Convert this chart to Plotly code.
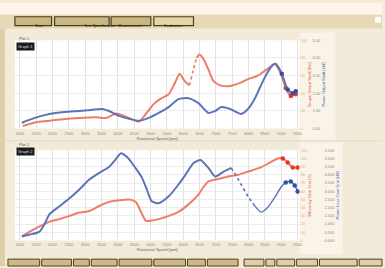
import plotly.graph_objects as go

# ---------------- data ----------------
rpm_ticks = [1000, 1500, 2000, 2500, 3000, 3500, 4000, 4500, 5000, 5500,
             6000, 6500, 7000, 7500, 8000, 8500, 9000, 9500]
rpm_labels = [str(v) for v in rpm_ticks]

# chart 1, red series (red axis 0..100)
c1_red_rpm_a = [1090, 1455, 1910, 2365, 2820, 3275, 3640, 3945, 4280, 4645, 4885,
                5100, 5310, 5555, 5735, 5890, 6040, 6190]
c1_red_val_a = [3, 7, 9, 11, 12, 13, 12, 17, 13, 8, 18, 28, 34, 39, 51, 62, 54, 49]
c1_red_rpm_b = [6190, 6310, 6405]
c1_red_val_b = [49, 67, 80]
c1_red_rpm_c = [6405, 6495, 6615, 6770, 6920, 7130, 7375, 7680, 7980, 8285, 8590,
                8800, 8985, 9135, 9290, 9440]
c1_red_val_c = [80, 84, 79, 67, 54, 49, 48, 51, 56, 60, 68, 73, 62, 46, 37, 39]

# chart 1, blue series (blue axis 0..5)
c1_blue_rpm = [1060, 1455, 1910, 2365, 2820, 3185, 3520, 3795, 4035, 4340, 4645,
               4945, 5250, 5555, 5855, 6160, 6465, 6770, 6980, 7165, 7435, 7770,
               7980, 8195, 8405, 8590, 8740, 8830, 9015, 9195, 9350, 9440]
c1_blue_val = [0.33, 0.61, 0.83, 0.94, 1.0, 1.06, 1.11, 0.94, 0.72, 0.56, 0.44,
               0.61, 0.89, 1.22, 1.67, 1.72, 1.44, 0.89, 1.0, 1.22, 1.11, 0.83,
               1.11, 1.72, 2.56, 3.22, 3.61, 3.67, 3.11, 2.22, 2.0, 2.11]

# chart 2, red series (red axis 0..110)
c2_red_rpm = [1060, 1455, 1910, 2215, 2520, 2820, 3125, 3430, 3730, 4035, 4340,
              4550, 4705, 4855, 5005, 5250, 5555, 5855, 6160, 6465, 6615, 6770,
              7070, 7375, 7680, 7980, 8375, 8650, 8895, 9045, 9195, 9350, 9500]
c2_red_val = [5, 14, 23, 26, 30, 34, 36, 42, 47, 49, 50, 47, 35, 24, 24, 26, 30,
              35, 44, 56, 65, 72, 75, 78, 80, 84, 89, 95, 100, 100, 95, 89, 89]

# chart 2, blue series (blue axis 0..5.5)
c2_blue_rpm_a = [1060, 1305, 1605, 1760, 1910, 2215, 2520, 2820, 3125, 3430, 3730,
                 3915, 4095, 4280, 4430, 4580, 4735, 4885, 5035, 5250, 5555, 5855,
                 6070, 6315, 6525, 6770, 6980, 7225, 7465]
c2_blue_val_a = [0.24, 0.36, 0.54, 1.02, 1.61, 2.09, 2.57, 3.11, 3.71, 4.12, 4.48,
                 4.90, 5.32, 5.08, 4.72, 4.30, 3.83, 3.11, 2.39, 2.27, 2.69, 3.41,
                 4.01, 4.72, 4.90, 4.42, 3.89, 4.18, 4.42]
c2_blue_rpm_b = [7465, 7620, 7770, 7980, 8195]
c2_blue_val_b = [4.42, 3.95, 3.41, 2.69, 2.09]
c2_blue_rpm_c = [8195, 8375, 8590, 8800, 8985, 9135, 9290, 9410, 9500]
c2_blue_val_c = [2.09, 1.73, 2.03, 2.63, 3.23, 3.53, 3.59, 3.35, 2.99]

toolbar_labels = ["Start", "Test Specification", "Measurement", "Evaluation"]

RED = "#ef7c6a"
BLUE = "#5b74b6"
DRED = "#e2372b"
DBLUE = "#2d52a6"

W, H = 385, 268
def fx(x): return x / W
def fy(y): return 1 - y / H

fig = go.Figure()

def line(x, y, color, xa, ya, dash="solid", width=2.0, opacity=1.0):
    fig.add_trace(go.Scatter(x=x, y=y, mode="lines", xaxis=xa, yaxis=ya,
                             line=dict(color=color, width=width, dash=dash, shape="spline", smoothing=0.6),
                             opacity=opacity, showlegend=False, hoverinfo="skip"))

def dots(x, y, color, xa, ya, size=4.5):
    fig.add_trace(go.Scatter(x=x, y=y, mode="markers", xaxis=xa, yaxis=ya,
                             marker=dict(color=color, size=size), showlegend=False,
                             hoverinfo="skip"))

# chart 1
line(c1_blue_rpm, c1_blue_val, BLUE, "x", "y2")
line(c1_red_rpm_a, c1_red_val_a, RED, "x", "y")
line(c1_red_rpm_b, c1_red_val_b, RED, "x", "y", dash="dot", width=1.6)
line(c1_red_rpm_c, c1_red_val_c, RED, "x", "y")
dots(c1_blue_rpm[-4:], c1_blue_val[-4:], DBLUE, "x", "y2")
dots(c1_red_rpm_c[-3:], c1_red_val_c[-3:], DRED, "x", "y")

# chart 2
line(c2_red_rpm, c2_red_val, RED, "x2", "y3")
line(c2_blue_rpm_a, c2_blue_val_a, BLUE, "x2", "y4")
line(c2_blue_rpm_b, c2_blue_val_b, BLUE, "x2", "y4", dash="dot", width=1.6)
line(c2_blue_rpm_c, c2_blue_val_c, BLUE, "x2", "y4", width=1.4)
dots(c2_blue_rpm_c[-4:], c2_blue_val_c[-4:], DBLUE, "x2", "y4")
dots(c2_red_rpm[-4:], c2_red_val[-4:], DRED, "x2", "y3")

FONT = "Liberation Sans"
tickf = dict(size=4, color="#8a8a8a", family=FONT)
xdom = [fx(15), fx(302)]

xcommon = dict(domain=xdom, range=[848, 9561], tickvals=rpm_ticks, ticktext=rpm_labels,
               tickfont=tickf, showgrid=True, gridcolor="#e2e2e2", gridwidth=1,
               zeroline=False, showline=False, ticks="", ticklabelstandoff=1,
               title=dict(text="Rotational Speed [rpm]", font=dict(size=4, color="#666", family=FONT),
                          standoff=1))

fig.update_layout(
    width=W, height=H, margin=dict(l=0, r=0, t=0, b=0),
    paper_bgcolor="#f2ebda", plot_bgcolor="#ffffff",
    font=dict(family=FONT),
    xaxis=dict(**xcommon, anchor="y"),
    xaxis2=dict(**xcommon, anchor="y3"),
    yaxis=dict(domain=[fy(128), fy(38)], anchor="x", side="right", range=[0, 100], dtick=20,
               tickfont=dict(size=4, color="#e9a898", family=FONT), showgrid=True,
               gridcolor="#ececec", zeroline=False, ticks="",
               title=dict(text="Torque Output Shaft [Nm]", font=dict(size=4, color="#e0553f", family=FONT),
                          standoff=1)),
    yaxis2=dict(overlaying="y", anchor="free", position=fx(314), side="right", range=[0, 5],
                dtick=1, tickformat=".2f", tickfont=tickf, showgrid=False, zeroline=False, ticks="",
                title=dict(text="Power Output Shaft [kW]", font=dict(size=4, color="#3c5aa8", family=FONT),
                           standoff=1)),
    yaxis3=dict(domain=[fy(242), fy(150)], anchor="x2", side="right", range=[0, 110], dtick=10,
                tickfont=dict(size=4, color="#e9a898", family=FONT), showgrid=True,
                gridcolor="#ececec", zeroline=False, ticks="",
                title=dict(text="Efficiency Gear Unit [%]", font=dict(size=4, color="#e0553f", family=FONT),
                           standoff=1)),
    yaxis4=dict(overlaying="y3", anchor="free", position=fx(326), side="right", range=[0, 5.5],
                dtick=0.5, tickformat=".3f", tickfont=tickf, showgrid=False, zeroline=False, ticks="",
                title=dict(text="Power Loss Gear Unit [kW]", font=dict(size=4, color="#3c5aa8", family=FONT),
                           standoff=1)),
)

shapes = []
def rect(x0, y0, x1, y1, fill, line_color=None, lw=0, layer="below"):
    shapes.append(dict(type="rect", xref="paper", yref="paper", x0=fx(x0), x1=fx(x1),
                       y0=fy(y1), y1=fy(y0), fillcolor=fill, layer=layer,
                       line=dict(color=line_color or fill, width=lw)))

# window chrome
rect(0, 0, 385, 12, "#fff4ea")
rect(0, 12, 385, 26, "#e7d9b6")
rect(0, 26, 5, 268, "#dccfa9")
rect(302, 30, 338, 140, "#f9f3e8")
rect(302, 142, 345, 256, "#f9f3e8")
rect(5, 140, 385, 141, "#ddd2b8")
rect(378, 14, 384, 20, "#ffffff")

# toolbar buttons
btn_x = [(15, 52), (55, 110), (112, 152), (155, 195)]
for i, (a, b) in enumerate(btn_x):
    rect(a, 14, b, 23, "#c8b683" if i < 3 else "#e4d6a8", "#4b3d1a", 1.2, layer="above")

# bottom buttons
bottom = [(8, 40), (42, 72), (74, 90), (92, 118), (120, 153), (155, 187), (189, 207),
          (209, 240), (246, 266), (268, 277), (279, 297), (299, 320), (322, 360), (362, 385)]
for i, (a, b) in enumerate(bottom):
    rect(a, 261, b, 268, "#cbb98a" if i < 8 else "#ddcfa6", "#4b3d1a", 1.0, layer="above")

fig.update_layout(shapes=shapes)

ann = []
for (a, b), t in zip(btn_x, toolbar_labels):
    ann.append(dict(x=fx((a + b) / 2), y=fy(18.5), xref="paper", yref="paper", text=t,
                    showarrow=False, font=dict(size=4, color="#2b2210", family=FONT)))
for yy, t in [(32, "Plot 1"), (144, "Plot 2")]:
    ann.append(dict(x=fx(17), y=fy(yy), xref="paper", yref="paper", text=t, xanchor="left",
                    showarrow=False, font=dict(size=4, color="#555", family=FONT)))
for yy, t in [(40, "Graph 1"), (151, "Graph 2")]:
    ann.append(dict(x=fx(16), y=fy(yy), xref="paper", yref="paper", text=t, xanchor="left",
                    showarrow=False, bgcolor="#1c1c1c", borderpad=1,
                    font=dict(size=4, color="#dddddd", family=FONT)))
fig.update_layout(annotations=ann)

fig.write_html("out.html", config={"displayModeBar": False},
               post_script="document.body.style.margin='0';document.body.style.overflow='hidden';")
